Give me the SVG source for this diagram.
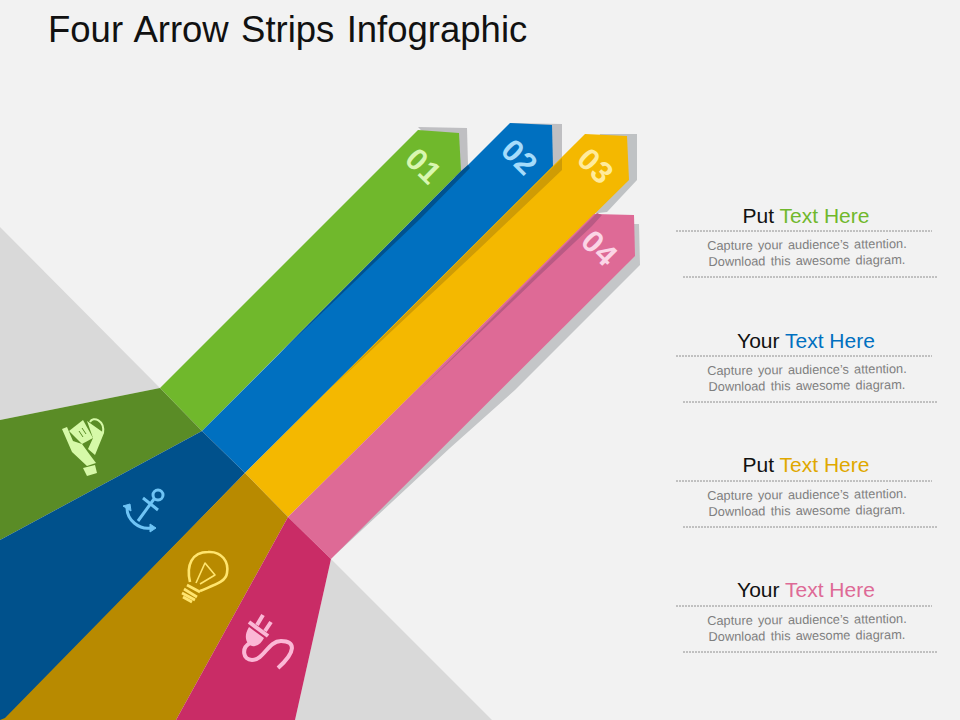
<svg xmlns="http://www.w3.org/2000/svg" width="960" height="720" viewBox="0 0 960 720">
<style>
text{font-family:"Liberation Sans",Arial,sans-serif}
.title{font-size:36.5px;fill:#111;word-spacing:2.2px}
.head{font-size:21px;fill:#111;text-anchor:middle}
.body{font-size:12.8px;fill:#7f7f7f;text-anchor:middle;word-spacing:1.6px}
.num{font-size:31px;font-weight:bold;text-anchor:middle;letter-spacing:1px}
.rule{stroke:#777;stroke-width:.8;stroke-dasharray:2 1;fill:none}
.ic{stroke-linecap:butt;stroke-linejoin:round}
</style>
<rect width="960" height="720" fill="#f2f2f2"/>
<g id="backdrop">
<polygon points="0,227 160,388 0,420" fill="#d9d9d9"/>
<polygon points="331,559 492,720 295,720" fill="#d9d9d9"/>
</g>
<text class="title" x="48" y="42">Four Arrow Strips Infographic</text>
<g id="connectors">
<polygon points="418,127 467,128 468,165 455,178 440,150" fill="#bfbfc2"/>
<polygon points="510,123 562,124 562,160 545,178 530,140" fill="#bfbfc2"/>
<polygon points="600,134 637,134 637,180 607,212 590,214 590,170" fill="#bfc2c4"/>
<polygon points="630,224 639,224 640,265 515,390 450,448 335,555" fill="#c4c6c8"/>
</g>
<g id="node-01">
<polygon points="160,388 418,130 459,133 461,171 202,431" fill="#70b82c"/>
<polygon points="160,388 202,431 0,540 0,420" fill="#5a8c26"/>
<text class="num" transform="translate(424,166) rotate(45)" x="0" y="11" fill="#d9f7b0">01</text>
<g class="ic" fill="#d6f9a8">
<polygon points="69,431 83,420 93,438 82,444"/>
<polygon points="87,421 104,433 95,455 88,449 93,438"/>
<path d="M90,422C93,416 105,420 103,433" fill="none" stroke="#d6f9a8" stroke-width="2"/>
<path d="M82,428L86,434M79,431L83,437" fill="none" stroke="#5a8c26" stroke-width="1"/>
<path d="M62,429L67,427L73,441L82,444L90,455L96,463L87,466L72,452Z"/>
<polygon points="83,468 95,465 97,473 87,476"/>
</g>
</g>
<g id="node-02">
<polygon points="202,431 510,123 552,125 553,167 245,473" fill="#0070c0"/>
<polygon points="468,165 461,171 280,353 420,219 470,168" fill="#00528f"/>
<polygon points="202,431 245,473 5,720 0,720 0,540" fill="#00518c"/>
<text class="num" transform="translate(520,157) rotate(45)" x="0" y="11" fill="#a5dcfb">02</text>
<g class="ic" fill="none" stroke="#6fc4f5" stroke-width="3">
<circle cx="158" cy="495" r="5"/>
<path d="M154,499L138,521M143,498L158,510"/>
<path d="M127,508C127,520 139,530 151,528"/>
<path d="M123,506L130,504L131,511ZM150,524L156,528L150,532Z" fill="#6fc4f5" stroke-width="1"/>
</g>
</g>
<g id="node-03">
<polygon points="245,473 585,134 627,136 629,180 288,517" fill="#f4b800"/>
<polygon points="562,158 553,167 330,389 478,250 562,170" fill="#cf9c05"/>
<polygon points="245,473 288,517 176,720 0,720 5,718" fill="#b88a00"/>
<text class="num" transform="translate(596,166) rotate(45)" x="0" y="11" fill="#ffeb9c">03</text>
<g class="ic" fill="none" stroke="#ffe56e" stroke-width="2.6">
<path d="M190,582C186,565 192,552 208,552C222,551 229,562 227,573C226,582 214,585 200,591"/>
<path d="M196,583L205,563L215,575L200,584" stroke-width="1.6"/>
<path d="M187,585L200,592M184,589L197,597M182,593L195,600M183,597L192,602" stroke-width="2.8"/>
</g>
</g>
<g id="node-04">
<polygon points="288,517 594,214 634,215 635,256 331,559" fill="#de6a96"/>
<polygon points="597,213 420,390 540,275 592,226 602,215" fill="#b95a84"/>
<polygon points="288,517 331,559 295,720 176,720" fill="#c92c66"/>
<text class="num" transform="translate(600,248) rotate(45)" x="0" y="11" fill="#fbd5e6">04</text>
<g class="ic" fill="none" stroke="#fbb8d6">
<path d="M263,615L257,625M271,622L265,631" stroke-width="4"/>
<path d="M249,622L268,636" stroke-width="4"/>
<path d="M249,627C241,640 250,648 255,646C259,645 262,642 264,638Z" fill="#fbb8d6" stroke="none"/>
<path d="M250,643C241,648 243,660 252,660C264,660 268,641 281,641C296,641 296,652 278,668" stroke-width="4"/>
</g>
</g>
<g id="text-1">
<text class="head" x="806" y="223">Put <tspan fill="#70b82c">Text Here</tspan></text>
<line class="rule" x1="676" y1="231" x2="932" y2="231"/>
<text class="body" x="807" y="249" transform="rotate(-.6 807 249)">Capture your audience’s attention.</text>
<text class="body" x="807" y="265" transform="rotate(-.6 807 265)">Download this awesome diagram.</text>
<line class="rule" x1="683" y1="277" x2="938" y2="277"/>
</g>
<g id="text-2">
<text class="head" x="806" y="348">Your <tspan fill="#0070c0">Text Here</tspan></text>
<line class="rule" x1="676" y1="356" x2="932" y2="356"/>
<text class="body" x="807" y="374" transform="rotate(-.6 807 374)">Capture your audience’s attention.</text>
<text class="body" x="807" y="390" transform="rotate(-.6 807 390)">Download this awesome diagram.</text>
<line class="rule" x1="683" y1="402" x2="938" y2="402"/>
</g>
<g id="text-3">
<text class="head" x="806" y="472">Put <tspan fill="#e0a800">Text Here</tspan></text>
<line class="rule" x1="676" y1="481" x2="932" y2="481"/>
<text class="body" x="807" y="499" transform="rotate(-.6 807 499)">Capture your audience’s attention.</text>
<text class="body" x="807" y="515" transform="rotate(-.6 807 515)">Download this awesome diagram.</text>
<line class="rule" x1="683" y1="527" x2="938" y2="527"/>
</g>
<g id="text-4">
<text class="head" x="806" y="597">Your <tspan fill="#de6a96">Text Here</tspan></text>
<line class="rule" x1="676" y1="606" x2="932" y2="606"/>
<text class="body" x="807" y="624" transform="rotate(-.6 807 624)">Capture your audience’s attention.</text>
<text class="body" x="807" y="640" transform="rotate(-.6 807 640)">Download this awesome diagram.</text>
<line class="rule" x1="683" y1="652" x2="938" y2="652"/>
</g>
</svg>
